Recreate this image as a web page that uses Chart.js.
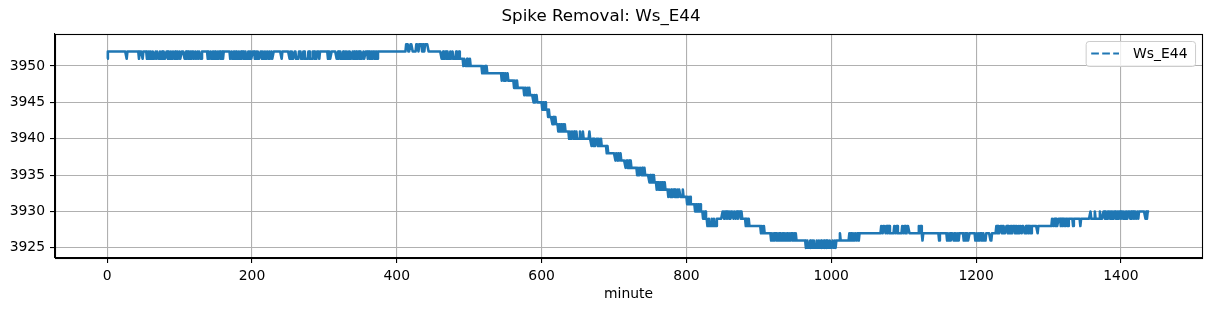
<!DOCTYPE html>
<html><head><meta charset="utf-8">
<script src="https://cdn.jsdelivr.net/npm/chart.js@4.4.1/dist/chart.umd.min.js"></script>
<style>html,body{margin:0;padding:0;background:#fff}#wrap{width:1211px;height:311px;position:relative}</style>
</head><body><div id="wrap"><canvas id="c"></canvas></div>
<script>
const seriesName = 'Ws_E44';
const titleText = 'Spike Removal: Ws_E44';
const xAxisLabel = 'minute';
const xTickValues = [0, 200, 400, 600, 800, 1000, 1200, 1400];
const yTickValues = [3925, 3930, 3935, 3940, 3945, 3950];

// Series: [value, number of consecutive minutes]
const runs = [
[3951,1],[3952,26],[3951,1],[3952,16],[3951,1],[3952,4],[3951,1],[3952,5],
[3951,2],[3952,1],[3951,1],[3952,2],
[3951,2],[3952,1],[3951,3],[3952,1],[3951,1],[3952,2],[3951,2],[3952,1],[3951,2],[3952,1],[3951,1],[3952,1],[3951,3],[3952,2],[3951,1],[3952,1],[3951,2],[3952,1],[3951,2],[3952,2],[3951,1],[3952,1],[3951,2],[3952,1],[3951,2],[3952,1],[3951,2],[3952,4],
[3951,2],[3952,1],[3951,1],[3952,2],[3951,2],[3952,1],[3951,1],[3952,3],[3951,2],[3952,1],[3951,2],[3952,1],[3951,1],[3952,2],[3951,2],[3952,8],
[3951,1],[3952,1],[3951,2],[3952,1],[3951,2],[3952,2],[3951,1],[3952,1],[3951,3],[3952,1],[3951,1],[3952,2],[3951,2],[3952,1],[3951,1],[3952,9],
[3951,2],[3952,1],[3951,2],[3952,2],[3951,1],[3952,1],[3951,3],[3952,1],[3951,2],[3952,1],[3951,1],[3952,2],[3951,2],[3952,1],[3951,3],[3952,1],[3951,1],[3952,2],[3951,2],[3952,3],
[3951,2],[3952,1],[3951,1],[3952,1],[3951,3],[3952,2],[3951,1],[3952,1],[3951,2],[3952,1],[3951,2],[3952,2],[3951,1],[3952,1],[3951,2],[3952,1],[3951,2],
[3952,11],[3951,1],[3952,10],[3951,1],[3952,1],[3951,1],[3952,1],
[3951,3],[3952,2],[3951,4],[3952,3],[3951,3],[3952,2],[3951,5],[3952,2],[3951,4],[3952,3],[3951,3],[3952,3],
[3951,1],[3952,11],[3951,1],[3952,2],[3951,2],[3952,7],
[3951,2],[3952,1],[3951,1],[3952,2],[3951,3],[3952,1],[3951,2],[3952,1],[3951,1],[3952,1],[3951,2],[3952,2],[3951,3],[3952,1],[3951,1],[3952,1],[3951,2],[3952,1],[3951,2],[3952,2],[3951,1],[3952,1],[3951,3],[3952,1],[3951,2],[3952,3],[3951,1],[3952,2],[3951,2],[3952,1],[3951,1],[3952,3],[3951,1],[3952,2],[3951,1],[3952,39],
[3953,3],[3952,3],[3953,3],[3952,5],[3953,3],[3952,1],[3953,4],[3952,1],[3953,2],[3952,1],[3953,5],[3952,18],
[3951,2],[3952,1],[3951,2],[3952,2],[3951,1],[3952,1],[3951,3],[3952,1],[3951,2],[3952,1],[3951,4],[3952,1],[3951,3],[3952,1],[3951,5],
[3950,1],[3951,2],[3950,2],[3951,1],[3950,3],[3951,1],[3950,16],
[3949,1],[3950,1],[3949,2],[3950,1],[3949,1],[3950,1],[3949,20],
[3948,1],[3949,2],[3948,2],[3949,1],[3948,2],[3949,1],[3948,8],
[3947,1],[3948,1],[3947,2],[3948,1],[3947,9],
[3946,1],[3947,2],[3946,2],[3947,1],[3946,1],[3947,1],[3946,5],
[3945,1],[3946,1],[3945,2],[3946,1],[3945,7],
[3944,1],[3945,1],[3944,2],[3945,1],[3944,3],
[3943,1],[3944,1],[3943,4],
[3942,1],[3943,1],[3942,1],[3943,2],[3942,3],
[3941,1],[3942,2],[3941,1],[3942,1],[3941,2],[3942,1],[3941,1],[3942,1],[3941,5],
[3940,1],[3941,1],[3940,2],[3941,2],[3940,1],[3941,1],[3940,2],[3941,1],[3940,4],
[3941,1],[3940,3],[3941,1],[3940,8],[3941,1],[3940,2],[3939,1],[3940,2],
[3939,1],[3940,1],[3939,2],[3940,2],[3939,1],[3940,1],[3939,2],[3940,1],[3939,7],
[3938,1],[3939,1],[3938,10],
[3937,1],[3938,2],[3937,1],[3938,1],[3937,2],[3938,1],[3937,6],
[3936,1],[3937,2],[3936,2],[3937,1],[3936,1],[3937,1],[3936,8],
[3935,1],[3936,1],[3935,2],[3936,2],[3935,1],[3936,1],[3935,2],[3936,1],[3935,6],
[3934,1],[3935,1],[3934,2],[3935,1],[3934,1],[3935,1],[3934,3],
[3933,1],[3934,2],[3933,2],[3934,1],[3933,1],[3934,2],[3933,1],[3934,2],[3933,4],
[3932,1],[3933,2],[3932,1],[3933,1],[3932,2],[3933,2],[3932,1],[3933,1],[3932,2],[3933,1],[3932,1],[3933,2],[3932,3],[3933,1],[3932,5],
[3931,1],[3932,1],[3931,2],[3932,1],[3931,6],
[3930,1],[3931,2],[3930,1],[3931,1],[3930,2],[3931,1],[3930,3],
[3929,1],[3930,1],[3929,1],[3930,1],[3929,2],
[3928,2],[3929,1],[3928,3],[3929,1],[3928,2],[3929,1],[3928,3],
[3929,8],
[3930,2],[3929,1],[3930,3],[3929,1],[3930,2],[3929,1],[3930,1],[3929,1],[3930,3],[3929,1],[3930,2],[3929,1],[3930,2],[3929,1],[3930,3],[3929,1],[3930,1],
[3929,5],
[3928,1],[3929,1],[3928,1],[3929,2],[3928,16],
[3927,1],[3928,1],[3927,2],[3928,1],[3927,9],
[3926,1],[3927,1],[3926,2],[3927,1],[3926,1],[3927,2],[3926,3],[3927,1],[3926,1],[3927,1],[3926,2],[3927,2],[3926,1],[3927,1],[3926,2],[3927,1],[3926,3],[3927,1],[3926,1],[3927,2],[3926,2],[3927,1],[3926,1],[3927,1],[3926,13],
[3925,2],[3926,1],[3925,3],[3926,1],[3925,2],[3926,1],[3925,1],[3926,1],[3925,3],[3926,1],[3925,2],[3926,1],[3925,2],[3926,1],[3925,3],[3926,1],[3925,2],[3926,1],[3925,1],[3926,1],[3925,2],[3926,1],[3925,3],[3926,1],[3925,2],[3926,1],[3925,1],
[3926,5],[3927,1],[3926,12],
[3927,1],[3926,1],[3927,2],[3926,1],[3927,1],[3926,2],[3927,2],[3926,1],[3927,2],[3926,1],
[3927,30],
[3928,2],[3927,1],[3928,3],[3927,1],[3928,2],[3927,1],[3928,2],
[3927,6],[3928,2],[3927,1],[3928,2],[3927,6],
[3928,2],[3927,1],[3928,2],[3927,2],[3928,3],
[3927,13],[3928,1],[3927,1],[3928,2],[3927,1],[3926,1],
[3927,22],[3926,1],[3927,10],
[3926,1],[3927,1],[3926,2],[3927,1],[3926,1],[3927,3],
[3926,1],[3927,1],[3926,1],[3927,1],[3926,2],[3927,1],[3926,1],[3927,6],
[3926,2],[3927,1],[3926,1],[3927,2],[3926,2],[3927,8],
[3926,2],[3927,1],[3926,2],[3927,1],[3926,1],[3927,2],[3926,2],[3927,1],[3926,3],[3927,6],
[3926,2],[3927,6],
[3928,2],[3927,1],[3928,1],[3927,2],[3928,2],[3927,1],[3928,2],[3927,3],
[3928,2],[3927,1],[3928,1],[3927,2],[3928,2],[3927,1],[3928,3],[3927,1],[3928,2],[3927,2],[3928,1],[3927,1],[3928,2],[3927,1],[3928,3],[3927,2],[3928,1],[3927,1],[3928,2],[3927,1],[3928,2],[3927,1],[3928,8],
[3927,1],[3928,19],
[3929,2],[3928,1],[3929,2],[3928,1],[3929,1],[3928,2],[3929,3],[3928,1],[3929,2],[3928,1],[3929,2],[3928,1],[3929,3],
[3928,1],[3929,6],[3928,1],[3929,9],[3928,1],[3929,13],
[3930,1],[3929,5],[3930,1],[3929,6],[3930,1],[3929,4],
[3930,2],[3929,1],[3930,1],[3929,2],[3930,3],[3929,1],[3930,2],[3929,1],[3930,1],[3929,1],[3930,2],[3929,2],[3930,1],[3929,1],[3930,3],[3929,1],[3930,2],[3929,1],[3930,1],[3929,2],[3930,2],[3929,1],[3930,3],[3929,1],[3930,1],[3929,1],[3930,2],[3929,1],[3930,2],[3929,2],[3930,1],[3929,1],
[3930,9],[3929,1],[3930,1],[3929,1],[3930,4]
];

// Expand runs into per-minute points
const minutes = [];
const values = [];
{ let m = 0; for (const [v, n] of runs) { for (let i = 0; i < n; i++) { minutes.push(m++); values.push(v); } } }
const points = minutes.map((x, i) => ({ x: x, y: values[i] }));

// matplotlib-like 5% data margins
const xLo = Math.min(...minutes), xHi = Math.max(...minutes);
const yLo = Math.min(...values), yHi = Math.max(...values);
const xMin = xLo - 0.05 * (xHi - xLo), xMax = xHi + 0.05 * (xHi - xLo);
const yMin = yLo - 0.05 * (yHi - yLo), yMax = yHi + 0.05 * (yHi - yLo);

const FONT = "'DejaVu Sans', sans-serif";
const LINE_COLOR = '#1f77b4';

const framePlugin = {
  id: 'frameAndLegend',
  afterDraw(chart) {
    const { ctx, chartArea: a } = chart;
    ctx.save();
    ctx.strokeStyle = '#000';
    ctx.lineWidth = 1.1;
    ctx.strokeRect(Math.round(a.left) + 0.5, Math.round(a.top) + 0.5, Math.round(a.right - a.left), Math.round(a.bottom - a.top));
    // legend
    const fs = 13.9;
    ctx.font = fs + "px " + FONT;
    const tw = ctx.measureText(seriesName).width;
    const pad = 0.4 * fs, handle = 2.0 * fs, gap = 0.8 * fs;
    const w = pad + handle + gap + tw + pad + 5;
    const h = 25;
    const right = a.right - 0.5 * fs, top = a.top + 0.5 * fs;
    const left = right - w;
    ctx.beginPath();
    if (ctx.roundRect) ctx.roundRect(left + 0.5, top + 0.5, w, h, 3); else ctx.rect(left + 0.5, top + 0.5, w, h);
    ctx.fillStyle = 'rgba(255,255,255,0.8)';
    ctx.fill();
    ctx.strokeStyle = '#cccccc';
    ctx.lineWidth = 1;
    ctx.stroke();
    const cy = top + h / 2;
    ctx.beginPath();
    ctx.setLineDash([7.7, 3.3]);
    ctx.strokeStyle = LINE_COLOR;
    ctx.lineWidth = 2.1;
    ctx.moveTo(left + pad, cy);
    ctx.lineTo(left + pad + handle, cy);
    ctx.stroke();
    ctx.setLineDash([]);
    ctx.fillStyle = '#000';
    ctx.textBaseline = 'middle';
    ctx.textAlign = 'left';
    ctx.fillText(seriesName, left + pad + handle + gap + 3, cy + 0.5);
    ctx.restore();
  }
};

new Chart(document.getElementById('c'), {
  type: 'line',
  data: { datasets: [{ label: seriesName, data: points, borderColor: LINE_COLOR, borderWidth: 2.6, pointRadius: 0, fill: false, tension: 0, borderJoinStyle: 'round', borderCapStyle: 'butt' }] },
  options: {
    responsive: true, maintainAspectRatio: false, animation: false, devicePixelRatio: 1,
    parsing: false, normalized: true,
    layout: { padding: { left: 0, right: 9, top: 0, bottom: 0 } },
    plugins: {
      legend: { display: false },
      tooltip: { enabled: false },
      title: { display: true, text: titleText, color: '#000', font: { family: FONT, size: 16.7, weight: 'normal' }, padding: { top: 7, bottom: 7 } }
    },
    scales: {
      x: {
        type: 'linear', min: xMin, max: xMax,
        afterBuildTicks: s => { s.ticks = xTickValues.map(v => ({ value: v })); },
        afterFit: s => { s.height = 53; },
        ticks: { color: '#000', font: { family: FONT, size: 13.9 }, padding: 5, maxRotation: 0, autoSkip: false, callback: v => String(v) },
        grid: { color: '#b0b0b0', lineWidth: 1.1, drawTicks: true, tickLength: 5, tickColor: '#000', tickWidth: 1.1 },
        border: { display: true, color: '#000', width: 1.1 },
        title: { display: true, text: xAxisLabel, color: '#000', font: { family: FONT, size: 13.9 }, padding: { top: 0, bottom: 8 } }
      },
      y: {
        type: 'linear', min: yMin, max: yMax,
        afterBuildTicks: s => { s.ticks = yTickValues.map(v => ({ value: v })); },
        afterFit: s => { s.width = 55; },
        ticks: { color: '#000', font: { family: FONT, size: 13.9 }, padding: 5, autoSkip: false, callback: v => String(v) },
        grid: { color: '#b0b0b0', lineWidth: 1.1, drawTicks: true, tickLength: 5, tickColor: '#000', tickWidth: 1.1 },
        border: { display: true, color: '#000', width: 1.1 }
      }
    }
  },
  plugins: [framePlugin]
});
</script>
</body></html>
